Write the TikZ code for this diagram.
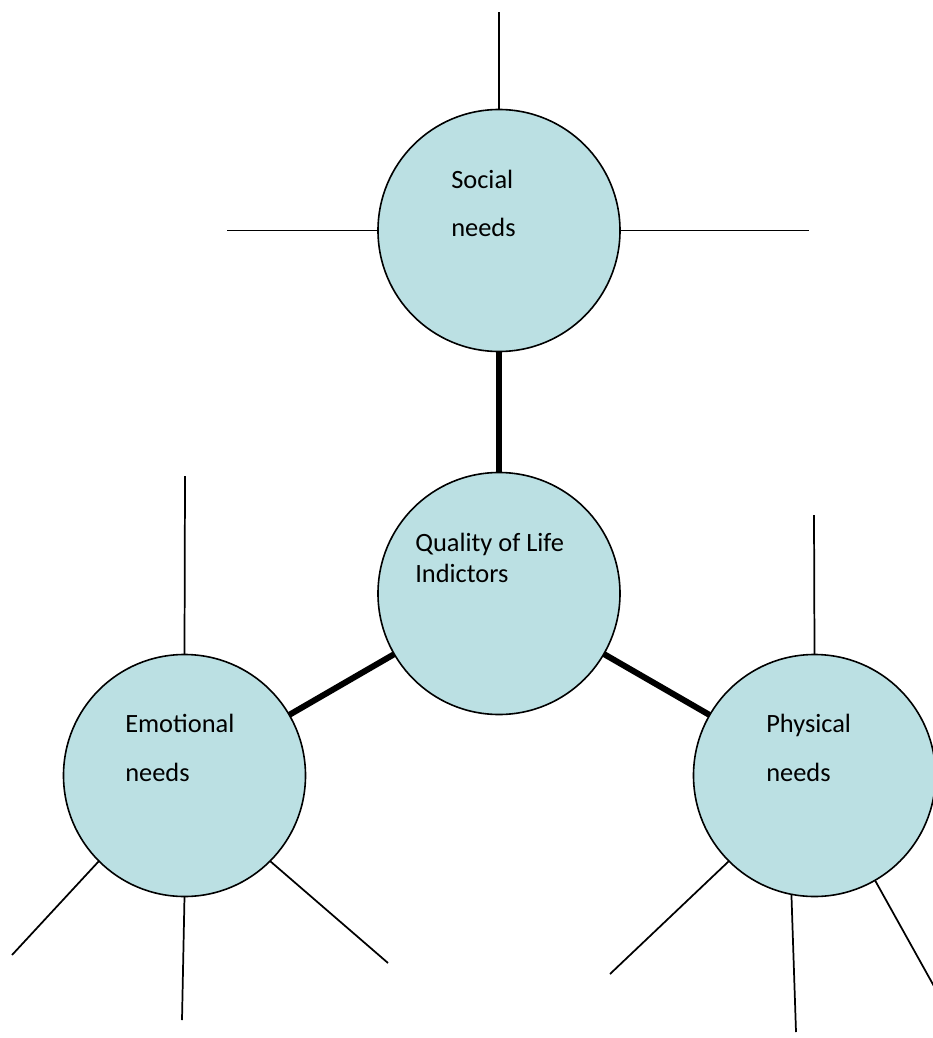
\documentclass[tikz,border=0pt]{standalone}
\usepackage{fontspec}
\setmainfont{Carlito}
\definecolor{bubble}{RGB}{187,224,227}
\begin{document}
\begin{tikzpicture}[x=0.75pt,y=-0.75pt,
  bubblenode/.style={circle,draw=black,line width=1.2pt,fill=bubble,minimum size=181.5pt,inner sep=0pt,outer sep=0pt},
  spoke/.style={draw=black,line width=1.3pt},
  link/.style={draw=black,line width=4.5pt},
  lbl/.style={anchor=base west,inner sep=0pt,font=\fontsize{19.8}{24}\selectfont}]
\useasboundingbox (0,0) rectangle (932,1038);
% circles
\node[bubblenode] (s) at (499,230.5) {};
\node[bubblenode] (q) at (499,593.5) {};
\node[bubblenode] (e) at (184.5,775.5) {};
\node[bubblenode] (p) at (814.5,775.5) {};
% free ends of spokes
\coordinate (st) at (499,12);
\coordinate (sl) at (227,230.5);
\coordinate (sr) at (809,230.5);
\coordinate (et) at (185,476);
\coordinate (el) at (12,955);
\coordinate (em) at (182,1020);
\coordinate (er) at (388,963);
\coordinate (pt) at (814,515);
\coordinate (pl) at (610,974);
\coordinate (pm) at (796,1032);
\coordinate (pr) at (940,997);
% spokes
\draw[spoke] (s.90) -- (st);
\draw[spoke] (s.180) -- (sl);
\draw[spoke] (s.0) -- (sr);
\draw[spoke] (e.90) -- (et);
\draw[spoke] (e.225) -- (el);
\draw[spoke] (e.270) -- (em);
\draw[spoke] (e.315) -- (er);
\draw[spoke] (p.90) -- (pt);
\draw[spoke] (p.225) -- (pl);
\draw[spoke] (p.259) -- (pm);
\draw[spoke] (p.300) -- (pr);
% thick links
\draw[link] (s) -- (q);
\draw[link] (q) -- (e);
\draw[link] (q) -- (p);
% labels
\node[lbl] (s1) at (451,188) {Social};
\node[lbl] (s2) at (451,236) {needs};
\node[lbl] (q1) at (415,551.7) {Quality of Life};
\node[lbl] (q2) at (415,582.7) {Indictors};
\node[lbl] (e1) at (125,732) {Emotional};
\node[lbl] (e2) at (125,781) {needs};
\node[lbl] (p1) at (766,732) {Physical};
\node[lbl] (p2) at (766,781) {needs};
\end{tikzpicture}
\end{document}
